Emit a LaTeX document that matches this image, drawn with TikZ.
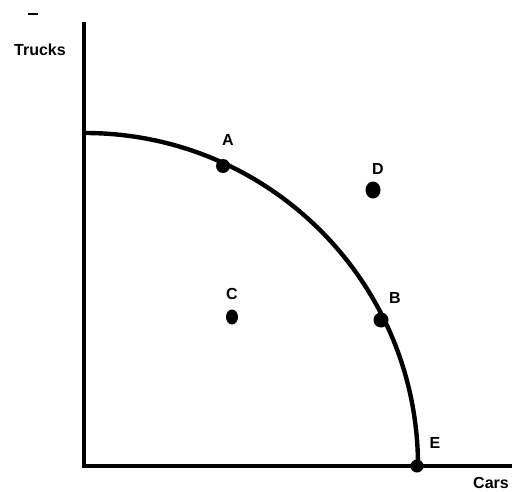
\documentclass[tikz,border=0pt]{standalone}
\usepackage{fontspec}
\setmainfont{Liberation Sans}
\usetikzlibrary{shapes.geometric}
\begin{document}
\begin{tikzpicture}[x=1pt,y=1pt,
  dot/.style={ellipse,fill=black,inner sep=0pt,minimum width=14pt,minimum height=14pt},
  lbl/.style={font=\fontsize{16}{18}\selectfont\bfseries,inner sep=0pt},
  axis/.style={line width=3.2pt},
  ppf/.style={line width=4.4pt}]
\useasboundingbox (0,0) rectangle (526,491);
\coordinate (top) at (84,469);
\coordinate (origin) at (84,25);
\coordinate (xend) at (512,25);
\draw[axis] (top) -- (origin) -- (xend);
\draw[ppf] (85,358) arc[start angle=90,end angle=0,radius=333];
\node[dot] (A) at (223,325) {};
\node[dot,minimum width=15pt,minimum height=17pt] (D) at (373,301) {};
\node[dot,minimum width=12pt,minimum height=15pt] (C) at (232,174) {};
\node[dot,minimum width=15pt,minimum height=15pt] (B) at (381,171) {};
\node[dot,minimum width=13pt,minimum height=13pt] (E) at (417,25) {};
\node[lbl] (Al) at (228,351) {A};
\node[lbl] (Dl) at (378,322) {D};
\node[lbl] (Cl) at (232,197) {C};
\node[lbl] (Bl) at (395,193) {B};
\node[lbl] (El) at (435,48) {E};
\node[lbl] (cars) at (491,8) {Cars};
\node[lbl] (trucks) at (40,441) {Trucks};
\draw[line width=2.5pt] (28,477) -- (38,477);
\end{tikzpicture}
\end{document}
